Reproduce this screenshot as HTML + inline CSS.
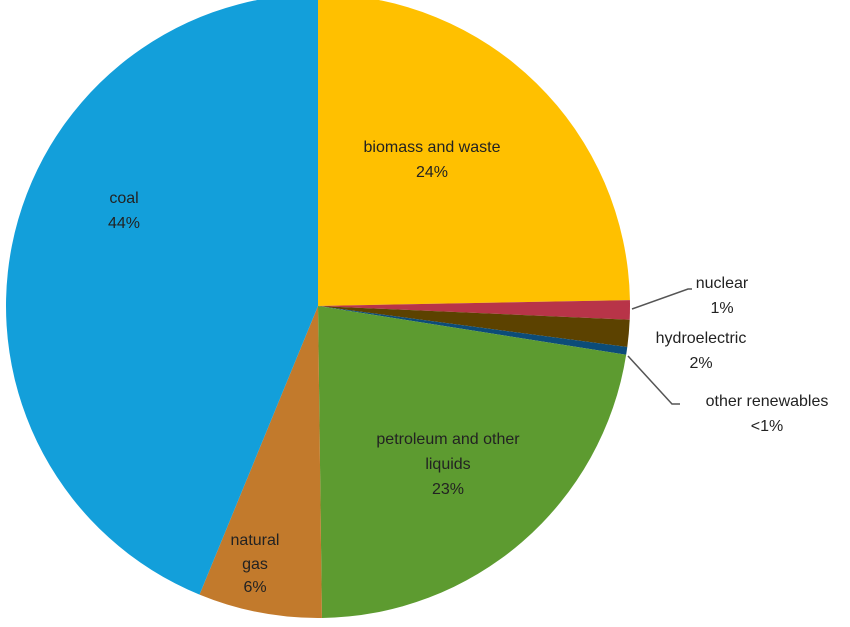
<!DOCTYPE html>
<html><head><meta charset="utf-8"><style>
body{margin:0;background:#fff;width:850px;height:622px;overflow:hidden;font-family:"Liberation Sans",Arial,sans-serif}
svg text{font-family:"Liberation Sans",Arial,sans-serif;font-size:16px;fill:#222}
</style></head><body>
<svg id="chart" width="850" height="622" viewBox="0 0 850 622">
<g id="slices"></g>
<g id="labels"></g>
</svg>
<script>
const categories=["biomass and waste","nuclear","hydroelectric","other renewables","petroleum and other liquids","natural gas","coal"];
const values=[24.7,1.0,1.4,0.4,22.3,6.4,43.8];
const colors=["#ffc000","#b83448","#5c4200","#0c4c78","#5d9b30","#c27a2c","#139fda"];
const cx=318,cy=306,r=312;
const ns="http://www.w3.org/2000/svg";
const g=document.getElementById('slices');
const total=values.reduce((a,b)=>a+b,0);
let a0=0;
function pt(a,rr){const t=a/total*2*Math.PI;return [cx+rr*Math.sin(t),cy-rr*Math.cos(t)];}
values.forEach((v,i)=>{
 const a1=a0+v;const p0=pt(a0,r),p1=pt(a1,r);const large=v/total>0.5?1:0;
 const p=document.createElementNS(ns,'path');
 p.setAttribute('d',`M${cx},${cy}L${p0[0]},${p0[1]}A${r},${r} 0 ${large} 1 ${p1[0]},${p1[1]}Z`);
 p.setAttribute('fill',colors[i]);
 
 
 g.appendChild(p);a0=a1;
});
const lab=document.getElementById('labels');
const texts=[
 [[432,152,"biomass and waste"],[432,177,"24%"]],
 [[722,288,"nuclear"],[722,313,"1%"]],
 [[701,343,"hydroelectric"],[701,368,"2%"]],
 [[767,406,"other renewables"],[767,431,"<1%"]],
 [[448,444,"petroleum and other"],[448,469,"liquids"],[448,494,"23%"]],
 [[255,545,"natural"],[255,569,"gas"],[255,592,"6%"]],
 [[124,203,"coal"],[124,228,"44%"]]
];
texts.forEach((lines,i)=>{lines.forEach(l=>{
 const t=document.createElementNS(ns,'text');
 t.setAttribute('x',l[0]);t.setAttribute('y',l[1]);t.setAttribute('text-anchor','middle');
 t.textContent=l[2];
 
 
 lab.appendChild(t);});});
const leaders=["M632,309L688,289L692,289","M628,356L672,404L680,404"];
leaders.forEach((d,i)=>{const p=document.createElementNS(ns,'path');
 p.setAttribute('d',d);p.setAttribute('stroke','#555');p.setAttribute('stroke-width','1.5');p.setAttribute('fill','none');
 
 
 lab.appendChild(p);});
</script>
</body></html>
